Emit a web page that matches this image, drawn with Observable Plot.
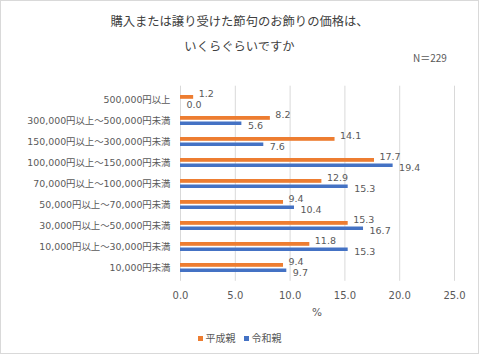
<!DOCTYPE html>
<html>
<head>
<meta charset="utf-8">
<script src="https://cdn.jsdelivr.net/npm/d3@7"></script>
<script src="https://cdn.jsdelivr.net/npm/@observablehq/plot@0.6"></script>
<style>
  html, body { margin: 0; padding: 0; background: #fff; }
  #wrap { position: relative; width: 479px; height: 354px; overflow: hidden; background: #fff;
          font-family: "DejaVu Sans", "Noto Sans CJK JP", sans-serif; color: #595959; }
  #frame { position: absolute; left: 0; top: 0; width: 477px; height: 352px; border: 1px solid #d9d9d9; }
  .abs { position: absolute; white-space: nowrap; }
  .title { left: 0; width: 479px; text-align: center; font-family: "Noto Sans CJK JP", sans-serif;
           font-size: 12.3px; line-height: 16px; height: 16px; color: #404040; }
  #chart { position: absolute; left: 0; top: 70px; }
  #chart g[aria-label^="y-axis"] text { font-size: 9.4px; }
  #legend { left: 0; width: 479px; top: 331px; height: 14px; line-height: 14px; display: flex;
            justify-content: center; font-size: 10px; font-family: "Noto Sans CJK JP", sans-serif; }
  #legend span.item { display: inline-flex; align-items: center; margin: 0 4px; }
  #legend span.sw { display: inline-block; width: 5px; height: 5px; margin-right: 3px; }
</style>
</head>
<body>
<div id="wrap">
  <div id="frame"></div>
  <div class="abs title" style="top:13px">購入または譲り受けた節句のお飾りの価格は、</div>
  <div class="abs title" style="top:38px">いくらぐらいですか</div>
  <div class="abs" style="left:413px; top:51px; font-size:10px; line-height:14px; font-family:'Noto Sans CJK JP', sans-serif;">N＝229</div>
  <div id="chart"></div>
  <div class="abs" style="left:297px; width:40px; text-align:center; top:305px; font-size:10.5px; line-height:14px;">%</div>
  <div class="abs" id="legend"></div>
</div>
<script>
const categories = [
  "500,000円以上",
  "300,000円以上～500,000円未満",
  "150,000円以上～300,000円未満",
  "100,000円以上～150,000円未満",
  "70,000円以上～100,000円未満",
  "50,000円以上～70,000円未満",
  "30,000円以上～50,000円未満",
  "10,000円以上～30,000円未満",
  "10,000円未満"
];
const heisei = [1.2, 8.2, 14.1, 17.7, 12.9, 9.4, 15.3, 11.8, 9.4];
const reiwa = [0.0, 5.6, 7.6, 19.4, 15.3, 10.4, 16.7, 15.3, 9.7];
const seriesNames = ["平成親", "令和親"];
const seriesColors = ["#ED7D31", "#4472C4"];
const xTicks = [0, 5, 10, 15, 20, 25];

const rowsH = categories.map((c, i) => ({category: c, value: heisei[i]}));
const rowsR = categories.map((c, i) => ({category: c, value: reiwa[i]}));
const fmt = d3.format(".1f");

const chart = Plot.plot({
  width: 479,
  height: 250,
  marginLeft: 180,
  marginRight: 25,
  marginTop: 15.7,
  marginBottom: 39.2,
  style: {
    fontFamily: '"DejaVu Sans", "Noto Sans CJK JP", sans-serif',
    fontSize: "10px",
    color: "#595959",
    background: "transparent",
    overflow: "visible"
  },
  x: {domain: [0, 25], ticks: xTicks, tickFormat: fmt, tickSize: 0, tickPadding: 10.6, label: null},
  y: {domain: categories, padding: 0, tickSize: 0, tickPadding: 10, label: null},
  marks: [
    Plot.ruleX(xTicks, {stroke: "#d9d9d9", strokeOpacity: 1}),
    Plot.barX(rowsH, {x: "value", y: "category", fill: seriesColors[0], insetTop: 6, insetBottom: 11.2}),
    Plot.barX(rowsR, {x: "value", y: "category", fill: seriesColors[1], insetTop: 11.5, insetBottom: 6}),
    Plot.text(rowsH, {x: "value", y: "category", text: d => fmt(d.value), textAnchor: "start", dx: 5, dy: -6, fill: "#595959", fontSize: 9.5}),
    Plot.text(rowsR, {x: "value", y: "category", text: d => fmt(d.value), textAnchor: "start", dx: 6, dy: 5, fill: "#595959", fontSize: 9.5})
  ]
});
document.getElementById("chart").appendChild(chart);

const legend = document.getElementById("legend");
seriesNames.forEach((name, i) => {
  const item = document.createElement("span");
  item.className = "item";
  const sw = document.createElement("span");
  sw.className = "sw";
  sw.style.background = seriesColors[i];
  item.appendChild(sw);
  item.appendChild(document.createTextNode(name));
  legend.appendChild(item);
});
</script>
</body>
</html>
